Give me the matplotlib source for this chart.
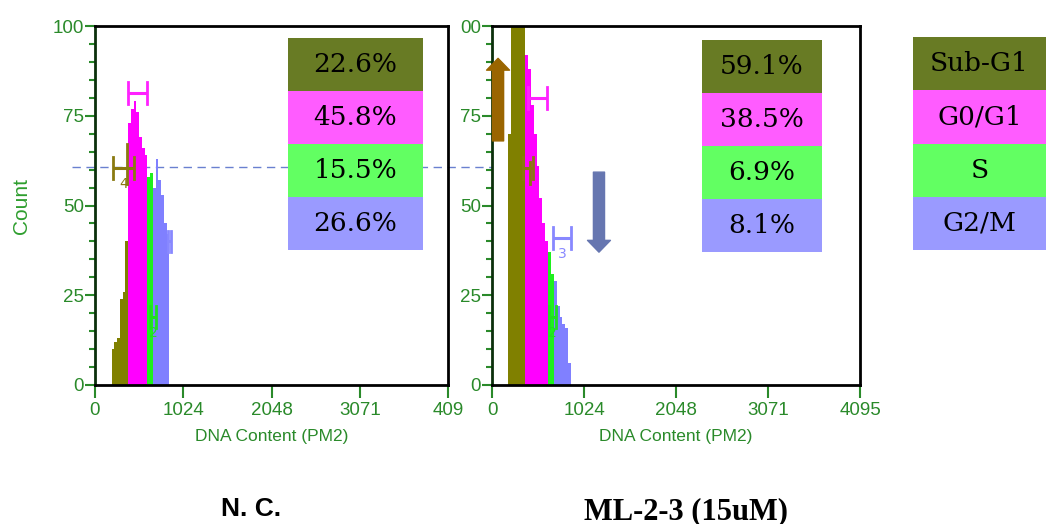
import numpy as np
import matplotlib
matplotlib.use("Agg")
import matplotlib.pyplot as plt
from matplotlib.patches import Rectangle, FancyArrowPatch
from matplotlib.transforms import blended_transform_factory

# histogram heights per phase (bin width 32 channels)
bin_w = 32
nc_start = 192
subg1_nc = [10, 12, 13, 24, 26, 40]
g1_nc = [73, 77, 79, 76, 69, 66, 64]
s_nc = [58, 59]
g2_nc = [55, 63, 57, 53, 45, 42]

ml_start = 176
subg1_ml = [70, 104, 104, 104, 104, 104]
g1_ml = [92, 88, 78, 70, 61, 52, 45, 40]
s_ml = [37, 31]
g2_ml = [29, 22, 19, 17, 16, 6]

# percentages shown in the boxes
phases = ["Sub-G1", "G0/G1", "S", "G2/M"]
pct_nc = ["22.6%", "45.8%", "15.5%", "26.6%"]
pct_ml = ["59.1%", "38.5%", "6.9%", "8.1%"]

# gate markers: (x1, x2, y, label)
gates_nc = [(209, 452, 60.4, "4"), (383, 603, 81.3, ""), (638, 708, 19, "2"), (847, 882, 40, "")]
gates_ml = [(345, 456, 60.5, ""), (400, 612, 80, ""), (634, 712, 19, "2"), (679, 880, 41, "3")]

xticks = [0, 1024, 2048, 3071, 4095]
xlabels_nc = ["0", "1024", "2048", "3071", "409"]
xlabels_ml = ["0", "1024", "2048", "3071", "4095"]
yticks = [0, 25, 50, 75, 100]
ylabels_nc = ["0", "25", "50", "75", "100"]
ylabels_ml = ["0", "25", "50", "75", "00"]
ref_line = 60.7

bar_colors = ["#808000", "#ff00ff", "#1ef01e", "#8080ff"]
box_colors = ["#687b24", "#ff5cff", "#62ff62", "#9a9aff"]
gate_colors = ["#8a7a10", "#ff22ff", "#22dd22", "#8888ff"]
green = "#2a8a2a"

fig = plt.figure(figsize=(10.46, 5.24), dpi=100)
ax1 = fig.add_axes([0.0908, 0.2653, 0.3375, 0.685])
ax2 = fig.add_axes([0.4704, 0.2653, 0.3518, 0.685])


def draw_hist(ax, start, series):
    x0 = start
    for h, c in zip(series, bar_colors):
        xs = x0 + bin_w * np.arange(len(h))
        ax.bar(xs, h, width=bin_w, align="edge", color=c, linewidth=0)
        x0 = xs[-1] + bin_w


def draw_gates(ax, gates):
    for (x1, x2, y, lab), c in zip(gates, gate_colors):
        ax.plot([x1, x2], [y, y], color=c, lw=2.2, solid_capstyle="butt")
        ax.plot([x1, x1], [y - 3, y + 3], color=c, lw=2)
        ax.plot([x2, x2], [y - 3, y + 3], color=c, lw=2)
        if lab:
            ax.text((x1 + x2) / 2, y - 2.5, lab, color=c, fontsize=10,
                    ha="center", va="top")


for ax, start, series, gates, xl, yl in [
        (ax1, nc_start, [subg1_nc, g1_nc, s_nc, g2_nc], gates_nc, xlabels_nc, ylabels_nc),
        (ax2, ml_start, [subg1_ml, g1_ml, s_ml, g2_ml], gates_ml, xlabels_ml, ylabels_ml)]:
    draw_hist(ax, start, series)
    draw_gates(ax, gates)
    ax.set_xlim(0, 4095)
    ax.set_ylim(0, 100)
    ax.set_xticks(xticks)
    ax.set_xticklabels(xl)
    ax.set_yticks(yticks)
    ax.set_yticklabels(yl)
    ax.set_yticks(np.arange(0, 101, 5), minor=True)
    ax.tick_params(axis="y", which="major", length=7, width=1.5, color=green,
                   labelcolor=green, labelsize=13.5, pad=1)
    ax.tick_params(axis="y", which="minor", length=4, width=1.5, color=green)
    ax.tick_params(axis="x", which="major", length=9, width=1.5, color=green,
                   labelcolor=green, labelsize=13.5, pad=3)
    for s in ax.spines.values():
        s.set_linewidth(2)
        s.set_color("black")
    ax.spines["left"].set_color("#0b300b")
    ax.set_xlabel("DNA Content (PM2)", color=green, fontsize=12.5)
    ax.xaxis.set_label_coords(0.5, -0.122)
    for t in ax.get_xticklabels() + ax.get_yticklabels():
        t.set_family("Liberation Sans")
    ax.xaxis.label.set_family("Liberation Sans")

# extra olive gate line on N.C.
ax1.plot([371, 371], [56, 67], color=gate_colors[0], lw=2)
ax2.plot([423, 423], [56, 62], color=gate_colors[0], lw=2)

ax1.text(-0.207, 0.5, "Count", transform=ax1.transAxes, rotation=90,
         color="#2e9e2e", fontsize=15, ha="center", va="center",
         family="Liberation Sans")

# arrows on ML-2-3 panel
for (x, y0, y1, c) in [(67, 68, 91, "#9a6500"), (1190, 59.3, 37, "#6676b0")]:
    ax2.add_patch(FancyArrowPatch((x, y0), (x, y1),
                  arrowstyle="simple,head_length=0.85,head_width=1.65,tail_width=0.8",
                  mutation_scale=10, color=c, shrinkA=0, shrinkB=0,
                  clip_on=False, zorder=5))

# dashed reference line across the figure
tr = blended_transform_factory(fig.transFigure, ax1.transData)
ax1.plot([72 / 1046, 853 / 1046], [ref_line, ref_line], transform=tr,
         clip_on=False, color="#6a80d0", lw=1, dashes=(6, 4), zorder=0.5)


def draw_box(x0, x1, y_top, y_bot, texts):
    n = len(texts)
    h = (y_top - y_bot) / n
    for i, (t, c) in enumerate(zip(texts, box_colors)):
        yb = y_top - (i + 1) * h
        fig.patches.append(Rectangle((x0, yb), x1 - x0, h, transform=fig.transFigure,
                                     facecolor=c, edgecolor="none", zorder=3))
        fig.text((x0 + x1) / 2, yb + h / 2, t, fontsize=19, family="DejaVu Serif",
                 ha="center", va="center", zorder=4)


W, H = 1046, 524
draw_box(288 / W, 423 / W, 1 - 38 / H, 1 - 250 / H, pct_nc)
draw_box(702 / W, 822 / W, 1 - 40 / H, 1 - 252 / H, pct_ml)
draw_box(913 / W, 1046 / W, 1 - 37 / H, 1 - 250 / H, phases)

fig.text(251 / W, 1 - 497 / H, "N. C.", fontsize=19, fontweight="bold",
         family="Liberation Sans", ha="center", va="top")
fig.text(686 / W, 1 - 497 / H, "ML-2-3 (15uM)", fontsize=22, fontweight="bold",
         family="Liberation Serif", ha="center", va="top")

fig.savefig("out.png", dpi=100)
